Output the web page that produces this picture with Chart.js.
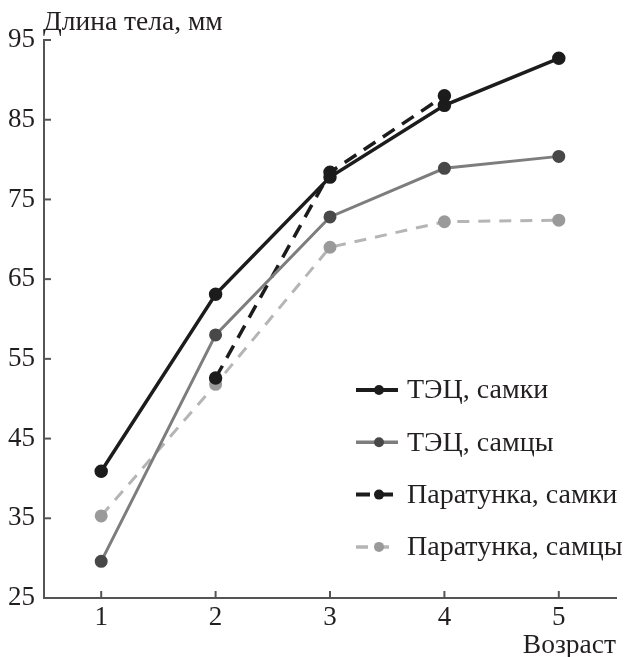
<!DOCTYPE html>
<html>
<head>
<meta charset="utf-8">
<script src="https://cdn.jsdelivr.net/npm/chart.js@4.4.1/dist/chart.umd.min.js"></script>
<style>
  html, body { margin: 0; padding: 0; background: #fff; }
  #box { width: 626px; height: 657px; }
</style>
</head>
<body>
<div id="box"><canvas id="growthChart" width="626" height="657"></canvas></div>
<script>
//------------------------------------------ DATA ------------------------------------------
const ages = [1, 2, 3, 4, 5];
const tecFemales = [40.9, 63.1, 77.8, 86.8, 92.7];
const tecMales = [29.6, 58.0, 72.8, 78.9, 80.4];
const paraFemales = [null, 52.6, 78.4, 88.0, null];
const paraMales = [35.3, 51.8, 69.0, 72.2, 72.4];
const yTicks = [25, 35, 45, 55, 65, 75, 85, 95];

const seriesNames = ["ТЭЦ, самки", "ТЭЦ, самцы", "Паратунка, самки", "Паратунка, самцы"];
const yTitle = "Длина тела, мм";
const xTitle = "Возраст";

const FONT = "'Liberation Serif', 'Times New Roman', serif";
const AXIS = "#555555";
const TEXT = "#231f20";

function toPoints(values) {
  return ages.map((a, i) => ({ x: a, y: values[i] })).filter((p) => p.y !== null);
}

//------------------------------------------ LEGEND + TICKS ------------------------------------------
// legend sits inside the plot, lower right; ticks point inward
const insidePlugin = {
  id: "insideBits",
  afterDraw(chart) {
    const ctx = chart.ctx;
    const area = chart.chartArea;
    const xs = chart.scales.x;
    const ys = chart.scales.y;

    ctx.save();
    ctx.strokeStyle = AXIS;
    ctx.lineWidth = 2;
    yTicks.forEach((v) => {
      const y = ys.getPixelForValue(v);
      ctx.beginPath();
      ctx.moveTo(area.left, y);
      ctx.lineTo(area.left + 7, y);
      ctx.stroke();
    });
    ages.forEach((v) => {
      const x = xs.getPixelForValue(v);
      ctx.beginPath();
      ctx.moveTo(x, area.bottom);
      ctx.lineTo(x, area.bottom - 7);
      ctx.stroke();
    });

    // y title top-left
    ctx.fillStyle = TEXT;
    ctx.font = "27.5px " + FONT;
    ctx.textAlign = "left";
    ctx.textBaseline = "alphabetic";
    ctx.fillText(yTitle, area.left - 1, 30);

    // legend
    const lx = 356, lw = 42, top = 390, step = 52.3;
    chart.data.datasets.forEach((ds, i) => {
      const y = top + i * step;
      ctx.strokeStyle = ds.borderColor;
      ctx.lineWidth = ds.borderWidth + 0.5;
      ctx.setLineDash(ds.borderDash || []);
      ctx.beginPath();
      ctx.moveTo(lx, y);
      ctx.lineTo(lx + lw, y);
      ctx.stroke();
      ctx.setLineDash([]);
      ctx.fillStyle = ds.pointBackgroundColor;
      ctx.beginPath();
      ctx.arc(lx + 23, y, 5, 0, Math.PI * 2);
      ctx.fill();
      ctx.fillStyle = TEXT;
      ctx.font = "28px " + FONT;
      ctx.textBaseline = "middle";
      ctx.fillText(ds.label, lx + 51, y + 1);
    });
    ctx.restore();
  },
};

//------------------------------------------ LINE GRAPH ------------------------------------------
const ctxLine = document.getElementById("growthChart");

const dataLine = {
  datasets: [
    {
      label: seriesNames[0],
      data: toPoints(tecFemales),
      borderColor: "#1c1c1c",
      pointBackgroundColor: "#1c1c1c",
      pointBorderColor: "#1c1c1c",
      borderWidth: 3.5,
    },
    {
      label: seriesNames[1],
      data: toPoints(tecMales),
      borderColor: "#7d7d7d",
      pointBackgroundColor: "#484848",
      pointBorderColor: "#484848",
      borderWidth: 3,
    },
    {
      label: seriesNames[2],
      data: toPoints(paraFemales),
      borderColor: "#1c1c1c",
      pointBackgroundColor: "#1c1c1c",
      pointBorderColor: "#1c1c1c",
      borderWidth: 3.5,
      borderDash: [14, 9],
    },
    {
      label: seriesNames[3],
      data: toPoints(paraMales),
      borderColor: "#b5b5b5",
      pointBackgroundColor: "#9a9a9a",
      pointBorderColor: "#9a9a9a",
      borderWidth: 3,
      borderDash: [12, 9],
    },
  ],
};

const configLine = {
  type: "line",
  data: dataLine,
  options: {
    responsive: false,
    animation: false,
    layout: {
      padding: { top: 40, right: 10, left: 0, bottom: 0 },
    },
    elements: {
      point: { radius: 5, borderWidth: 1 },
      line: { tension: 0 },
    },
    plugins: {
      legend: { display: false },
      tooltip: { enabled: false },
    },
    scales: {
      x: {
        type: "linear",
        min: 0.5,
        max: 5.5,
        afterBuildTicks(scale) {
          scale.ticks = ages.map((v) => ({ value: v }));
        },
        afterFit(scale) {
          scale.height = 59;
        },
        grid: { display: false, drawTicks: false },
        border: { display: true, color: AXIS, width: 2 },
        ticks: {
          color: TEXT,
          padding: 4,
          font: { family: FONT, size: 27 },
        },
        title: {
          display: true,
          text: xTitle,
          align: "end",
          color: TEXT,
          padding: { top: 0, bottom: -5 },
          font: { family: FONT, size: 27.5 },
        },
      },
      y: {
        min: 25,
        max: 95,
        afterBuildTicks(scale) {
          scale.ticks = yTicks.map((v) => ({ value: v }));
        },
        afterFit(scale) {
          scale.width = 44;
        },
        grid: { display: false, drawTicks: false },
        border: { display: true, color: AXIS, width: 2 },
        ticks: {
          color: TEXT,
          padding: 9,
          font: { family: FONT, size: 27 },
        },
      },
    },
  },
  plugins: [insidePlugin],
};

const growthChart = new Chart(ctxLine, configLine);
</script>
</body>
</html>
